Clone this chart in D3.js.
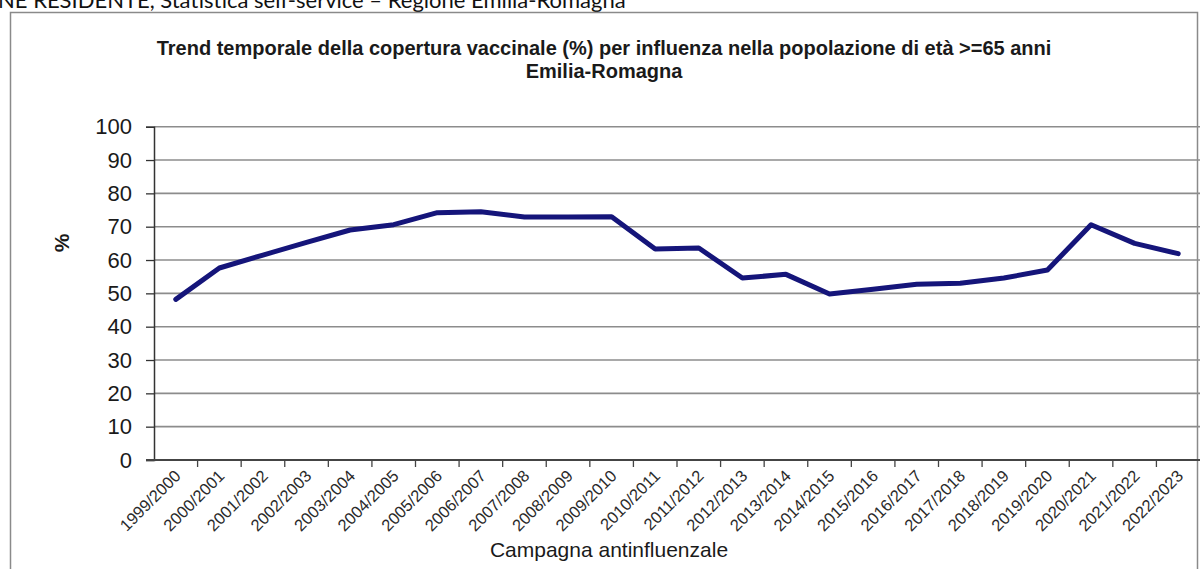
<!DOCTYPE html>
<html>
<head>
<meta charset="utf-8">
<script src="https://cdn.jsdelivr.net/npm/d3@7"></script>
<style>
  html, body { margin: 0; padding: 0; background: #fff; overflow: hidden; }
  svg { display: block; }
  text { font-family: "Liberation Sans", Arial, sans-serif; fill: #1a1a1a; }
</style>
</head>
<body>
<script>
// campagne antinfluenzali e copertura (%) nella popolazione >=65 anni
var campaigns = ["1999/2000", "2000/2001", "2001/2002", "2002/2003", "2003/2004", "2004/2005",
                 "2005/2006", "2006/2007", "2007/2008", "2008/2009", "2009/2010", "2010/2011",
                 "2011/2012", "2012/2013", "2013/2014", "2014/2015", "2015/2016", "2016/2017",
                 "2017/2018", "2018/2019", "2019/2020", "2020/2021", "2021/2022", "2022/2023"];
var coverage = [48.2, 57.6, 61.5, 65.3, 69.0, 70.6,
                74.2, 74.5, 72.9, 72.9, 73.0, 63.3,
                63.6, 54.6, 55.7, 49.8, 51.2, 52.7,
                53.0, 54.6, 57.0, 70.6, 65.0, 61.9];
var yTicks = [0, 10, 20, 30, 40, 50, 60, 70, 80, 90, 100];

var titleLines = ["Trend temporale della copertura vaccinale (%) per influenza nella popolazione di età >=65 anni",
                  "Emilia-Romagna"];
var xTitle = "Campagna antinfluenzale";
var yTitle = "%";
var header = "NE RESIDENTE, Statistica self-service \u2013 Regione Emilia-Romagna";

(function(){

    var W = 1202, H = 569;
    var plot = {left: 154, right: 1200, top: 126.7, bottom: 460};

    var svg = d3.select("body").append("svg")
        .attr("width", W)
        .attr("height", H);

    // testo della pagina tagliato in alto
    svg.append("text")
        .attr("x", -2)
        .attr("y", 8)
        .style("font-family", "Lato, 'Open Sans', sans-serif")
        .style("font-size", "22px")
        .style("fill", "#111")
        .text(header);

    // cornice del grafico
    svg.append("rect")
        .attr("x", 10.5)
        .attr("y", 12.5)
        .attr("width", 1187)
        .attr("height", 600)
        .attr("fill", "#fff")
        .attr("stroke", "#8a8a8a")
        .attr("stroke-width", 1.5);

    var x = d3.scaleBand()
        .domain(campaigns)
        .range([plot.left, plot.right])
        .padding(0);

    var y = d3.scaleLinear()
        .domain([0, 100])
        .range([plot.bottom, plot.top]);

    // griglia orizzontale
    svg.append("g")
        .selectAll("line")
        .data(yTicks.filter(function(d) { return d > 0; }))
        .enter()
        .append("line")
        .attr("x1", plot.left)
        .attr("x2", plot.right)
        .attr("y1", function(d) { return y(d); })
        .attr("y2", function(d) { return y(d); })
        .attr("stroke", "#8c8c8c")
        .attr("stroke-width", 1.6);

    // asse y
    var yAxis = d3.axisLeft(y)
        .tickValues(yTicks)
        .tickSize(8)
        .tickPadding(14);
    var gy = svg.append("g")
        .attr("transform", "translate(" + plot.left + ",0)")
        .call(yAxis);
    gy.select(".domain").attr("stroke", "#333").attr("stroke-width", 1.5);
    gy.selectAll(".tick line").attr("stroke", "#333").attr("stroke-width", 1.3);
    gy.selectAll(".tick text")
        .style("font-size", "22px")
        .style("fill", "#1a1a1a");

    // asse x: etichette al centro delle categorie
    var xAxis = d3.axisBottom(x)
        .tickSize(0)
        .tickPadding(0);
    var gx = svg.append("g")
        .attr("transform", "translate(0," + plot.bottom + ")")
        .call(xAxis);
    gx.select(".domain").remove();
    gx.selectAll(".tick text")
        .attr("text-anchor", "end")
        .attr("dy", null)
        .attr("y", null)
        .attr("transform", "translate(6,17) rotate(-45)")
        .style("font-size", "16.5px")
        .style("fill", "#2a2a2a");

    // tacche tra le categorie
    svg.append("g")
        .selectAll("line")
        .data(campaigns.slice(1))
        .enter()
        .append("line")
        .attr("x1", function(d) { return x(d); })
        .attr("x2", function(d) { return x(d); })
        .attr("y1", plot.bottom)
        .attr("y2", plot.bottom + 7)
        .attr("stroke", "#444")
        .attr("stroke-width", 1.3);

    svg.append("line")
        .attr("x1", plot.left - 8)
        .attr("x2", plot.right)
        .attr("y1", plot.bottom)
        .attr("y2", plot.bottom)
        .attr("stroke", "#444")
        .attr("stroke-width", 2);

    // linea della copertura
    var line = d3.line()
        .x(function(d, i) { return x(campaigns[i]) + x.bandwidth() / 2; })
        .y(function(d) { return y(d); });

    svg.append("path")
        .datum(coverage)
        .attr("d", line)
        .attr("fill", "none")
        .attr("stroke", "#15157a")
        .attr("stroke-width", 5)
        .attr("stroke-linejoin", "round")
        .attr("stroke-linecap", "round");

    // titolo
    svg.append("g")
        .selectAll("text")
        .data(titleLines)
        .enter()
        .append("text")
        .attr("x", 604)
        .attr("y", function(d, i) { return 55 + i * 23; })
        .attr("text-anchor", "middle")
        .style("font-size", "20px")
        .style("font-weight", "bold")
        .text(function(d) { return d; });

    // titoli degli assi
    svg.append("text")
        .attr("x", 609)
        .attr("y", 557)
        .attr("text-anchor", "middle")
        .style("font-size", "21px")
        .text(xTitle);

    svg.append("text")
        .attr("transform", "translate(69,243) rotate(-90)")
        .attr("text-anchor", "middle")
        .style("font-size", "21px")
        .style("font-weight", "bold")
        .text(yTitle);

}());
</script>
</body>
</html>
